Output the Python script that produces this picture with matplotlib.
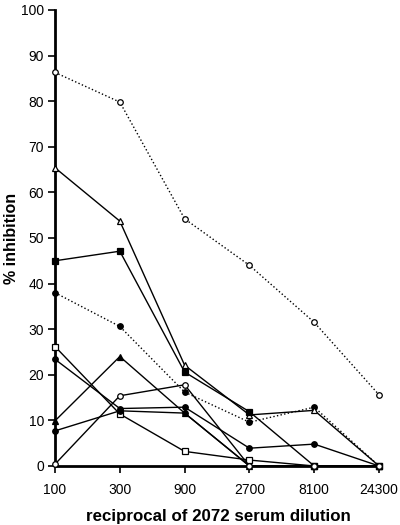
import matplotlib
matplotlib.use("Agg")
import matplotlib.pyplot as plt

plt.rcParams['font.family'] = ['Liberation Sans', 'DejaVu Sans']

dilutions = ['100', '300', '900', '2700', '8100', '24300']

# dotted series
open_circle_dot = [86.3, 79.8, 54.2, 44.0, 31.5, 15.6]
filled_circle_dot = [38.0, 30.6, 16.2, 9.6, 12.9, 0.0]

# solid series
open_triangle = [65.4, 53.7, 22.1, 11.2, 12.2, 0.0]
filled_square = [45.0, 47.1, 20.6, 11.9, 0.0, 0.0]
open_square = [26.2, 11.4, 3.2, 1.3, 0.0, 0.0]
filled_circle_a = [23.4, 12.6, 12.9, 3.9, 4.8, 0.0]
filled_triangle = [9.9, 24.0, 11.6, 0.0, 0.0, 0.0]
filled_circle_b = [7.7, 12.1, 11.6, 0.0, 0.0, 0.0]
open_circle = [0.4, 15.4, 17.8, 0.0, 0.0, 0.0]

fig = plt.figure(figsize=(4, 5.25), dpi=100)
ax = fig.add_axes([0.1375, 0.1124, 0.815, 0.8686])
x = list(range(len(dilutions)))

def draw(vals, marker, filled, ls):
    ax.plot(x, vals, color='black', linestyle=ls, linewidth=1.0,
            marker=marker, markersize=4, markeredgewidth=0.9,
            markerfacecolor='black' if filled else 'white',
            markeredgecolor='black', clip_on=False, zorder=3)

draw(open_circle_dot, 'o', False, ':')
draw(filled_circle_dot, 'o', True, ':')
draw(open_triangle, '^', False, '-')
draw(filled_square, 's', True, '-')
draw(open_square, 's', False, '-')
draw(filled_circle_a, 'o', True, '-')
draw(filled_triangle, '^', True, '-')
draw(filled_circle_b, 'o', True, '-')
draw(open_circle, 'o', False, '-')

ax.set_xlim(0, 5.03)
ax.set_ylim(0, 100)
ax.set_xticks(x)
ax.set_xticklabels(dilutions)
ax.set_yticks(range(0, 101, 10))
ax.spines['top'].set_visible(False)
ax.spines['right'].set_visible(False)
ax.spines['left'].set_linewidth(2)
ax.spines['bottom'].set_linewidth(2)
ax.tick_params(axis='both', direction='out', width=1.2, length=5,
               labelsize=10)
ax.tick_params(axis='x', pad=7)
ax.tick_params(axis='y', pad=3)
ax.set_xlabel('reciprocal of 2072 serum dilution', fontsize=12.2,
              fontweight='bold', labelpad=9)
ax.set_ylabel('% inhibition', fontsize=11.5, fontweight='bold', labelpad=1)

fig.savefig('out.png', dpi=100)
